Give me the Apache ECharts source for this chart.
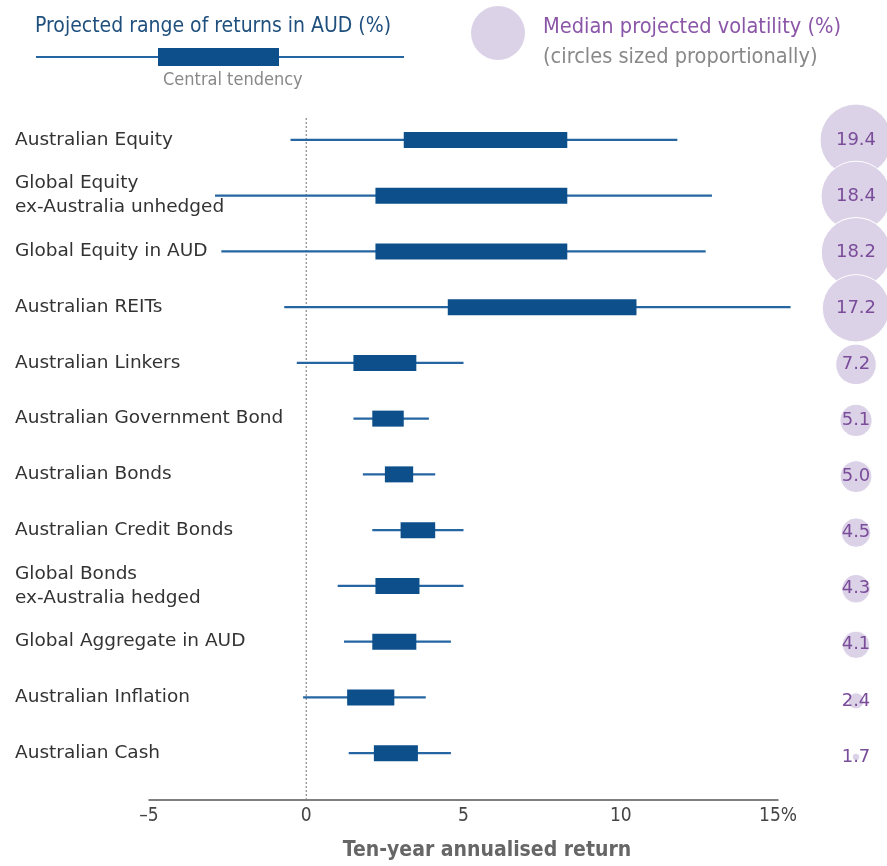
<!DOCTYPE html>
<html lang="en">
<head>
    <meta charset="utf-8">
    <title>Projected range of returns in AUD</title>
    <script src="https://cdn.jsdelivr.net/npm/echarts@6/dist/echarts.min.js"></script>
    <style>
        html, body { margin: 0; padding: 0; background: #fff; }
        #chart { width: 887px; height: 866px; }
    </style>
</head>
<body>
    <div id="chart"></div>
    <script type="text/javascript">
        // asset classes, top to bottom
        var categories = [
            "Australian Equity",
            "Global Equity\nex-Australia unhedged",
            "Global Equity in AUD",
            "Australian REITs",
            "Australian Linkers",
            "Australian Government Bond",
            "Australian Bonds",
            "Australian Credit Bonds",
            "Global Bonds\nex-Australia hedged",
            "Global Aggregate in AUD",
            "Australian Inflation",
            "Australian Cash"
        ];
        // projected range (whisker ends) and central tendency (box ends), %
        var rangeLow  = [-0.5, -2.9, -2.7, -0.7, -0.3, 1.5, 1.8, 2.1, 1.0, 1.2, -0.1, 1.35];
        var centralLow  = [3.1, 2.2, 2.2, 4.5, 1.5, 2.1, 2.5, 3.0, 2.2, 2.1, 1.3, 2.15];
        var centralHigh = [8.3, 8.3, 8.3, 10.5, 3.5, 3.1, 3.4, 4.1, 3.6, 3.5, 2.8, 3.55];
        var rangeHigh = [11.8, 12.9, 12.7, 15.4, 5.0, 3.9, 4.1, 5.0, 5.0, 4.6, 3.8, 4.6];
        // median projected volatility, %
        var volatility = [19.4, 18.4, 18.2, 17.2, 7.2, 5.1, 5.0, 4.5, 4.3, 4.1, 2.4, 1.7];
        var xTicks = [-5, 0, 5, 10, 15];

        var rangeData = categories.map(function (c, i) {
            return [i, rangeLow[i], centralLow[i], centralHigh[i], rangeHigh[i]];
        });
        var volData = volatility.map(function (v, i) { return [0.5, i, v]; });

        var FONT = "DejaVu Sans";
        var FONT_C = "DejaVu Sans Condensed";
        var NAVY = "#0c4f8b";
        var LINE = "#2465a2";

        var chart = echarts.init(document.getElementById("chart"));
        var option = {
            backgroundColor: "#fff",
            animation: false,
            grid: [
                { left: 149, right: 109, top: 112, bottom: 81 },
                { left: 825, width: 66, top: 112, bottom: 81 }
            ],
            xAxis: [{
                type: "value",
                gridIndex: 0,
                min: -5,
                max: 15,
                interval: 5,
                offset: 19,
                axisLine: { show: true, lineStyle: { color: "#555", width: 1.5 } },
                axisTick: { show: false },
                splitLine: { show: false },
                axisLabel: {
                    margin: 7,
                    fontFamily: FONT_C,
                    fontSize: 19,
                    color: "#444",
                    formatter: function (v) {
                        if (v === xTicks[xTicks.length - 1]) return v + "%";
                        if (v < 0) return "\u2013" + Math.abs(v);
                        return String(v);
                    }
                },
                name: "Ten-year annualised return",
                nameLocation: "middle",
                nameGap: 40,
                nameTextStyle: {
                    fontFamily: FONT_C,
                    fontSize: 21,
                    fontWeight: "bold",
                    color: "#666",
                    padding: [0, 0, 0, 47]
                }
            }, {
                type: "value",
                gridIndex: 1,
                min: 0,
                max: 1,
                show: false
            }],
            yAxis: [{
                type: "category",
                gridIndex: 0,
                inverse: true,
                data: categories,
                axisLine: { show: false },
                axisTick: { show: false },
                splitLine: { show: false },
                axisLabel: {
                    align: "left",
                    margin: 134,
                    fontFamily: FONT,
                    fontSize: 18.5,
                    lineHeight: 24,
                    color: "#333"
                }
            }, {
                type: "category",
                gridIndex: 1,
                inverse: true,
                data: categories,
                show: false
            }],
            graphic: [
                {
                    type: "text",
                    style: { x: 35, y: 27, verticalAlign: "middle", text: "Projected range of returns in AUD (%)", fontFamily: FONT_C, fontSize: 21, fill: "#1f4f7d" }
                },
                {
                    type: "line", shape: { x1: 36, y1: 57, x2: 404, y2: 57 },
                    style: { stroke: LINE, lineWidth: 2 }
                },
                {
                    type: "rect", shape: { x: 158, y: 48, width: 121, height: 18 },
                    style: { fill: NAVY }
                },
                {
                    type: "text",
                    style: { x: 163, y: 80, verticalAlign: "middle", text: "Central tendency", fontFamily: FONT_C, fontSize: 18, fill: "#888" }
                },
                {
                    type: "circle", shape: { cx: 498, cy: 33, r: 27 },
                    style: { fill: "#dbd2e7" }
                },
                {
                    type: "text",
                    style: { x: 543, y: 27, verticalAlign: "middle", text: "Median projected volatility (%)", fontFamily: FONT_C, fontSize: 21.6, fill: "#8b56a8" }
                },
                {
                    type: "text",
                    style: { x: 543, y: 57, verticalAlign: "middle", text: "(circles sized proportionally)", fontFamily: FONT_C, fontSize: 21.6, fill: "#888" }
                }
            ],
            series: [
                {
                    // dashed zero line
                    type: "custom",
                    xAxisIndex: 0,
                    yAxisIndex: 0,
                    z: 1,
                    silent: true,
                    data: [[0]],
                    encode: { x: 0 },
                    renderItem: function (params, api) {
                        var cs = params.coordSys;
                        var x = api.coord([api.value(0), 0])[0];
                        return {
                            type: "line",
                            shape: { x1: x, y1: cs.y + 6, x2: x, y2: cs.y + cs.height + 19 },
                            style: { stroke: "#888", lineWidth: 1.2, lineDash: [2, 2] }
                        };
                    }
                },
                {
                    type: "custom",
                    xAxisIndex: 0,
                    yAxisIndex: 0,
                    z: 2,
                    data: rangeData,
                    encode: { x: [1, 2, 3, 4], y: 0 },
                    renderItem: function (params, api) {
                        var idx = api.value(0);
                        var lo = api.coord([api.value(1), idx]);
                        var q1 = api.coord([api.value(2), idx]);
                        var q3 = api.coord([api.value(3), idx]);
                        var hi = api.coord([api.value(4), idx]);
                        var h = 16;
                        return {
                            type: "group",
                            children: [{
                                type: "line",
                                shape: { x1: lo[0], y1: lo[1], x2: hi[0], y2: hi[1] },
                                style: { stroke: LINE, lineWidth: 2.2 }
                            }, {
                                type: "rect",
                                shape: { x: q1[0], y: q1[1] - h / 2, width: q3[0] - q1[0], height: h },
                                style: { fill: NAVY }
                            }]
                        };
                    }
                },
                {
                    type: "scatter",
                    xAxisIndex: 1,
                    yAxisIndex: 1,
                    data: volData,
                    encode: { x: 0, y: 1 },
                    symbol: "circle",
                    symbolSize: function (val) {
                        return 17 * Math.sqrt(Math.max(val[2] - 1.5, 0.05));
                    },
                    itemStyle: { color: "#dbd2e7", borderColor: "#fff", borderWidth: 1, opacity: 1 },
                    label: {
                        show: true,
                        position: "inside",
                        fontFamily: FONT,
                        fontSize: 18,
                        color: "#7a4c99",
                        formatter: function (p) { return p.value[2].toFixed(1); }
                    }
                }
            ]
        };
        chart.setOption(option);
    </script>
</body>
</html>
